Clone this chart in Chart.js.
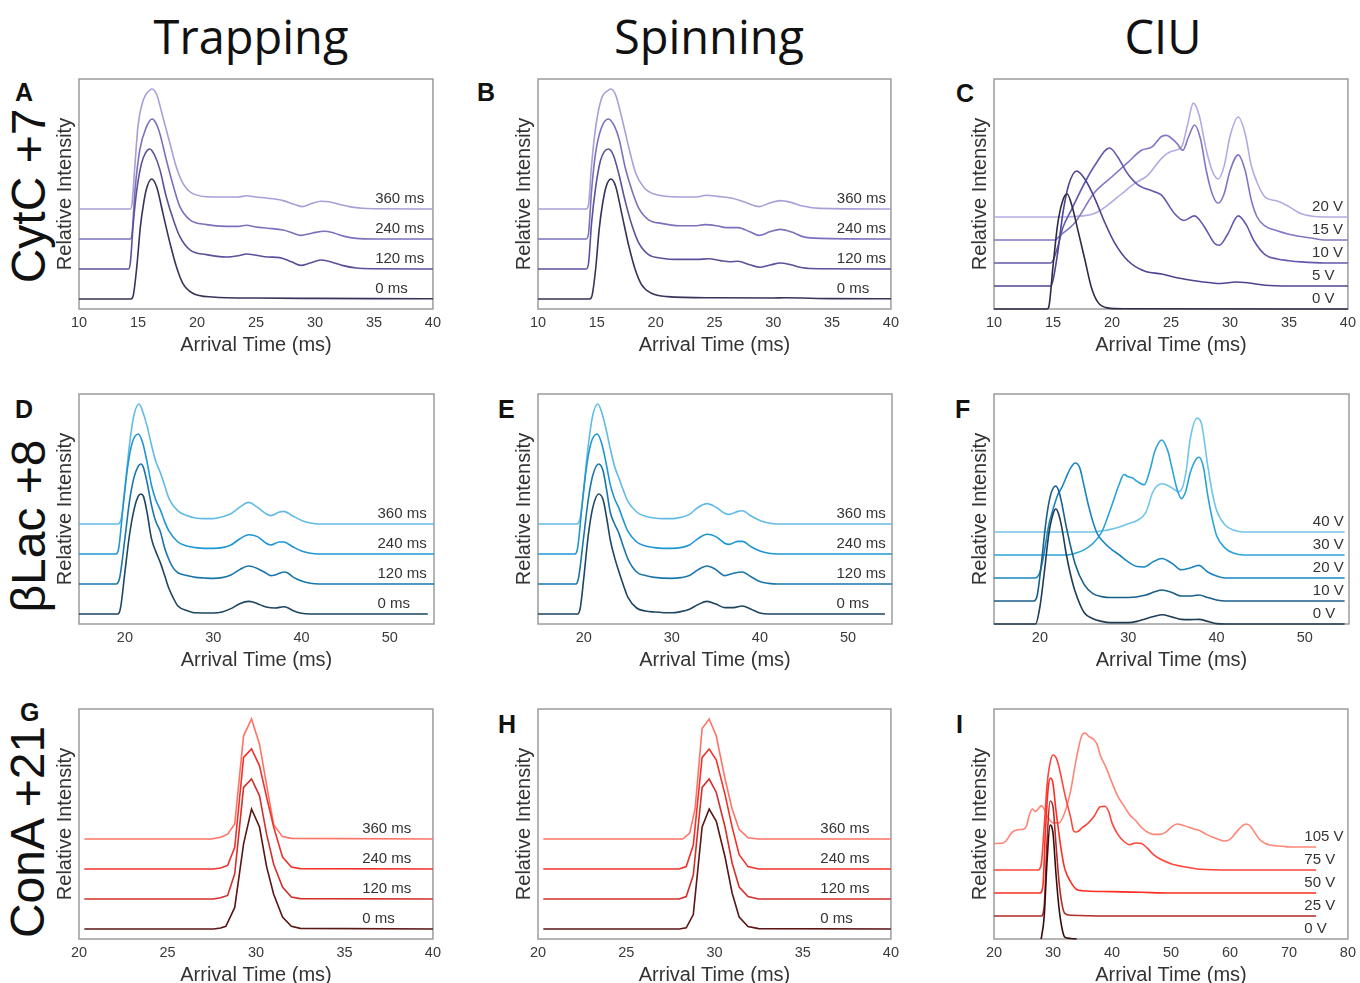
<!DOCTYPE html>
<html>
<head>
<meta charset="utf-8">
<script src="https://cdn.jsdelivr.net/npm/chart.js@4.4.0/dist/chart.umd.min.js"></script>
<style>
  body { margin: 0; background: #fff; width: 1360px; height: 983px; position: relative; overflow: hidden;
         font-family: "Liberation Sans", Arial, sans-serif; }
  .coltitle { position: absolute; top: 6px; width: 300px; text-align: center; font-family: "Open Sans", sans-serif;
              font-size: 47px; line-height: 60px; color: #111; }
  .rowtitle { position: absolute; white-space: nowrap; font-size: 48px; line-height: 48px; color: #111;
              transform: translate(-50%, -50%) rotate(-90deg); }
  .letter { position: absolute; font-weight: bold; font-size: 25px; line-height: 25px; color: #111; }
  canvas { position: absolute; }
</style>
</head>
<body>
<div class="coltitle" style="left:101px">Trapping</div>
<div class="coltitle" style="left:559px">Spinning</div>
<div class="coltitle" style="left:1013px">CIU</div>
<div class="rowtitle" style="left:29px;top:196px">CytC +7</div>
<div class="rowtitle" style="left:29px;top:526px">βLac +8</div>
<div class="rowtitle" style="left:28px;top:832px">ConA +21</div>
<div class="letter" style="left:15px;top:80px">A</div>
<div class="letter" style="left:477px;top:80px">B</div>
<div class="letter" style="left:956px;top:81px">C</div>
<div class="letter" style="left:15px;top:397px">D</div>
<div class="letter" style="left:498px;top:397px">E</div>
<div class="letter" style="left:955px;top:397px">F</div>
<div class="letter" style="left:20px;top:700px">G</div>
<div class="letter" style="left:498px;top:712px">H</div>
<div class="letter" style="left:956px;top:712px">I</div>
<script>
// ---- tick labels and trace names ----
const ticksCytC = [10, 15, 20, 25, 30, 35, 40];
const ticksBlac = [20, 30, 40, 50];
const ticksConA = [20, 25, 30, 35, 40];
const ticksConACiu = [20, 30, 40, 50, 60, 70, 80];

const timeNames = ["0 ms", "120 ms", "240 ms", "360 ms"];
const cytcVolts = ["0 V", "5 V", "10 V", "15 V", "20 V"];
const blacVolts = ["0 V", "10 V", "20 V", "30 V", "40 V"];
const conaVolts = ["0 V", "25 V", "50 V", "75 V", "105 V"];

// ---- CytC +7, trapping (arrival time ms, relative intensity) ----
const cytcTrap0 = [[10,0],[14.4,0],[14.6,0.03],[14.9,0.27],[15.2,0.6],[15.45,0.78],[15.7,0.91],[16.15,1],[16.6,0.93],[17.1,0.72],[17.7,0.47],[18.25,0.27],[18.8,0.13],[19.6,0.05],[21.3,0.017],[25,0.008],[30,0.005],[35,0.003],[40,0.002]];
const cytcTrap120 = [[10,0],[14.2,0],[14.35,0.05],[14.6,0.38],[14.9,0.66],[15.3,0.88],[15.65,0.97],[16,1],[16.4,0.95],[16.85,0.83],[17.4,0.6],[18,0.41],[18.55,0.27],[19.4,0.16],[20.8,0.12],[22.5,0.1],[23.5,0.11],[24.2,0.125],[25,0.115],[26,0.1],[27,0.095],[28,0.06],[28.8,0.03],[29.6,0.05],[30.5,0.075],[31.3,0.06],[32.3,0.03],[33.5,0.008],[35,0.002],[40,0]];
const cytcTrap240 = [[10,0],[14.35,0],[14.5,0.05],[14.75,0.41],[15.15,0.74],[15.7,0.93],[16.2,1],[16.5,0.97],[16.85,0.88],[17.4,0.66],[18,0.44],[18.55,0.27],[19.4,0.16],[20.8,0.12],[22.5,0.105],[23.5,0.105],[24.2,0.115],[25,0.1],[26,0.09],[27.3,0.075],[28,0.055],[28.8,0.03],[29.8,0.05],[30.8,0.065],[31.6,0.05],[32.5,0.022],[33.5,0.005],[35,0],[40,0]];
const cytcTrap360 = [[10,0],[14.35,0],[14.5,0.05],[14.75,0.38],[15,0.69],[15.45,0.91],[16,0.99],[16.2,1],[16.6,0.95],[17.1,0.77],[17.7,0.55],[18.25,0.35],[18.8,0.215],[19.6,0.13],[21.3,0.1],[22.5,0.1],[23.5,0.1],[24.2,0.11],[25,0.1],[26,0.09],[27.3,0.07],[28.2,0.04],[28.9,0.02],[29.7,0.045],[30.5,0.065],[31.2,0.06],[32.2,0.035],[33,0.018],[34,0.006],[35,0.002],[40,0]];

// ---- CytC +7, spinning ----
const cytcSpin0 = [[10,0],[14.4,0],[14.6,0.03],[14.9,0.25],[15.2,0.58],[15.5,0.8],[15.8,0.94],[16.2,1],[16.6,0.94],[17.1,0.72],[17.7,0.45],[18.25,0.25],[18.8,0.12],[19.6,0.05],[21,0.02],[25,0.01],[30,0.008],[31,0.01],[35,0.003],[40,0.002]];
const cytcSpin120 = [[10,0],[14.1,0],[14.3,0.05],[14.55,0.38],[14.9,0.68],[15.3,0.9],[15.65,0.98],[16,1],[16.4,0.95],[16.85,0.8],[17.4,0.57],[18,0.36],[18.55,0.22],[19.4,0.12],[20.5,0.09],[22,0.08],[23.5,0.08],[24.5,0.085],[25.5,0.07],[26.3,0.06],[27,0.065],[28,0.035],[28.9,0.015],[29.8,0.035],[30.6,0.05],[31.5,0.035],[32.5,0.01],[34,0.002],[40,0]];
const cytcSpin240 = [[10,0],[14.1,0],[14.3,0.05],[14.55,0.4],[14.9,0.72],[15.4,0.93],[16,1],[16.5,0.94],[16.9,0.83],[17.4,0.6],[18,0.4],[18.55,0.26],[19.4,0.16],[20.5,0.13],[22,0.11],[23.3,0.11],[24.2,0.12],[25.2,0.11],[26,0.095],[27,0.095],[28,0.06],[28.8,0.03],[29.7,0.06],[30.6,0.08],[31.5,0.06],[32.5,0.02],[34,0.005],[40,0]];
const cytcSpin360 = [[10,0],[14.1,0],[14.3,0.04],[14.55,0.36],[14.9,0.68],[15.4,0.92],[16,0.99],[16.2,1],[16.6,0.95],[17.1,0.77],[17.7,0.52],[18.3,0.3],[19,0.18],[20,0.12],[22,0.1],[23.5,0.1],[24.3,0.115],[25.3,0.105],[26.5,0.09],[27.5,0.06],[28.8,0.02],[29.7,0.05],[30.6,0.07],[31.5,0.055],[32.5,0.025],[34,0.005],[40,0]];

// ---- CytC +7, CIU ----
const cytcCiu0 = [[10,0],[14.5,0],[14.65,0.02],[15,0.37],[15.4,0.74],[15.85,0.95],[16.2,1],[16.6,0.9],[17.1,0.69],[17.7,0.43],[18.25,0.19],[18.8,0.06],[19.6,0.01],[21,0.002],[40,0]];
const cytcCiu5 = [[10,0],[14.8,0],[15,0.05],[15.4,0.29],[15.85,0.64],[16.3,0.87],[17,1],[17.7,0.93],[18.55,0.76],[19.4,0.55],[20.2,0.38],[21.35,0.22],[22.75,0.13],[24.2,0.105],[25.6,0.07],[27,0.046],[28.4,0.028],[29.2,0.022],[30.5,0.035],[31.5,0.028],[33,0.006],[35,0],[40,0]];
const cytcCiu10 = [[10,0],[14.8,0],[15,0.02],[15.4,0.14],[15.85,0.31],[16.55,0.46],[17.7,0.7],[18.55,0.85],[19.8,1],[20.5,0.92],[21.3,0.78],[22.2,0.68],[23.6,0.62],[24.2,0.59],[25.3,0.43],[26.1,0.37],[27,0.41],[27.8,0.32],[28.7,0.17],[29.1,0.155],[29.8,0.25],[30.7,0.41],[31.4,0.33],[32,0.2],[33,0.07],[34,0.035],[35,0.02],[36,0.01],[38,0],[40,0]];
const cytcCiu15 = [[10,0],[15.2,0],[15.5,0.03],[16.85,0.15],[18.5,0.41],[20,0.55],[21.3,0.67],[22.5,0.78],[23.4,0.81],[24.2,0.9],[24.6,0.91],[25.5,0.84],[26,0.78],[26.5,0.9],[27,1],[27.5,0.88],[28,0.6],[28.5,0.4],[29,0.32],[29.5,0.4],[30,0.6],[30.7,0.74],[31.3,0.6],[31.8,0.35],[32.3,0.2],[33,0.12],[34,0.08],[35,0.05],[36,0.03],[37,0.015],[38,0],[40,0]];
const cytcCiu20 = [[10,0],[16,0],[17.5,0.01],[18.5,0.03],[19.6,0.1],[20.8,0.2],[21.9,0.29],[23,0.36],[24.2,0.51],[25,0.57],[25.9,0.61],[26.4,0.8],[26.9,0.99],[27.4,0.88],[28,0.58],[28.5,0.4],[29,0.33],[29.5,0.44],[30,0.7],[30.7,0.87],[31.3,0.72],[31.8,0.45],[32.3,0.3],[33,0.17],[34,0.14],[35,0.09],[36,0.03],[37,0.006],[38,0],[40,0]];

// ---- βLac +8, trapping ----
const blacTrap0 = [[14.8,0],[19.2,0],[19.5,0.05],[20,0.35],[20.5,0.65],[21,0.86],[21.5,0.98],[21.8,1],[22.1,0.98],[22.5,0.85],[23,0.63],[23.5,0.52],[24,0.43],[24.5,0.32],[25,0.21],[25.5,0.13],[26,0.067],[27,0.03],[28,0.01],[30,0.008],[31,0.017],[32,0.045],[33,0.086],[34,0.105],[34.5,0.1],[35,0.086],[36,0.058],[37,0.05],[38,0.06],[38.5,0.05],[39,0.03],[40,0.006],[41,0],[54.3,0]];
const blacTrap120 = [[14.8,0],[19,0],[19.4,0.05],[20,0.38],[20.5,0.68],[21,0.88],[21.5,0.98],[21.8,1],[22.1,0.97],[22.5,0.85],[23,0.66],[23.5,0.52],[24,0.44],[24.5,0.3],[25,0.2],[25.5,0.13],[26,0.094],[27,0.07],[28,0.055],[29,0.05],[30,0.047],[31,0.053],[32,0.075],[33,0.12],[34,0.15],[35,0.13],[36,0.09],[36.5,0.07],[37,0.075],[38,0.1],[38.5,0.09],[39,0.06],[40,0.025],[41,0.006],[42,0],[55,0]];
const blacTrap240 = [[14.8,0],[19,0],[19.3,0.05],[19.8,0.4],[20.3,0.72],[20.8,0.92],[21.5,1],[22,0.93],[22.5,0.77],[23,0.575],[23.5,0.45],[24,0.37],[24.5,0.27],[25,0.19],[26,0.1],[27,0.067],[28,0.053],[29,0.047],[30,0.047],[31,0.053],[32,0.075],[33,0.125],[34,0.16],[35,0.145],[36,0.09],[36.5,0.075],[37.5,0.1],[38,0.1],[39,0.06],[40,0.025],[41,0.006],[42,0],[55,0]];
const blacTrap360 = [[14.8,0],[19.2,0],[19.6,0.05],[20,0.3],[20.5,0.65],[21,0.9],[21.6,1],[22,0.94],[22.5,0.82],[23,0.66],[23.5,0.52],[24,0.43],[24.5,0.32],[25,0.21],[26,0.11],[27,0.07],[28,0.05],[29,0.045],[30,0.045],[31,0.06],[32,0.085],[33,0.14],[34,0.18],[35,0.14],[36,0.085],[36.5,0.07],[37.5,0.1],[38,0.105],[39,0.067],[40,0.03],[41,0.008],[42,0],[55,0]];

// ---- βLac +8, spinning ----
const blacSpin0 = [[14.8,0],[19.3,0],[19.6,0.05],[20,0.3],[20.5,0.65],[21,0.88],[21.7,1],[22.2,0.95],[22.6,0.8],[23,0.62],[23.5,0.47],[24,0.35],[24.5,0.24],[25,0.14],[26,0.05],[27,0.025],[28,0.017],[30,0.01],[31,0.02],[32,0.04],[33,0.08],[34,0.105],[35,0.083],[36,0.053],[37,0.053],[38,0.067],[39,0.04],[40,0.008],[41,0],[54.2,0]];
const blacSpin120 = [[14.8,0],[19.1,0],[19.4,0.05],[20,0.4],[20.5,0.7],[21,0.9],[21.7,1],[22.2,0.94],[22.6,0.78],[23,0.6],[23.5,0.5],[24,0.42],[24.5,0.31],[25,0.21],[26,0.1],[27,0.07],[28,0.055],[30,0.047],[31,0.053],[32,0.07],[33,0.12],[34,0.15],[35,0.12],[36,0.07],[37,0.09],[38,0.1],[39,0.06],[40,0.02],[41,0.005],[42,0],[55,0]];
const blacSpin240 = [[14.8,0],[19,0],[19.3,0.05],[19.8,0.4],[20.3,0.72],[20.8,0.92],[21.5,1],[22,0.93],[22.5,0.77],[23,0.58],[23.5,0.46],[24,0.38],[24.5,0.28],[25,0.19],[26,0.1],[27,0.067],[28,0.053],[29,0.047],[30,0.047],[31,0.053],[32,0.075],[33,0.13],[34,0.165],[35,0.145],[36,0.09],[36.5,0.08],[37.5,0.105],[38,0.105],[39,0.06],[40,0.025],[41,0.006],[42,0],[55,0]];
const blacSpin360 = [[14.8,0],[19.2,0],[19.6,0.05],[20,0.3],[20.5,0.65],[21,0.9],[21.6,1],[22,0.94],[22.5,0.8],[23,0.63],[23.5,0.48],[24,0.38],[24.5,0.28],[25,0.19],[26,0.1],[27,0.065],[28,0.05],[29,0.045],[30,0.045],[31,0.055],[32,0.08],[33,0.14],[34,0.17],[35,0.14],[36,0.09],[36.5,0.08],[37.5,0.105],[38,0.11],[39,0.067],[40,0.03],[41,0.008],[42,0],[55,0]];

// ---- βLac +8, CIU ----
const blacCiu0 = [[14.8,0],[19.5,0],[20,0.15],[20.5,0.45],[21,0.78],[21.5,0.96],[21.8,1],[22.1,0.96],[22.5,0.83],[23,0.6],[23.5,0.42],[24,0.28],[25,0.1],[26,0.046],[27,0.023],[28,0.012],[30,0.012],[31,0.023],[32,0.046],[33,0.067],[33.8,0.08],[35,0.06],[36,0.04],[37,0.038],[38,0.04],[39,0.023],[40,0.003],[41,0],[54.5,0]];
const blacCiu10 = [[14.8,0],[19.3,0],[19.7,0.05],[20.2,0.35],[20.7,0.7],[21.2,0.92],[21.8,1],[22.2,0.94],[22.5,0.84],[23,0.64],[24,0.32],[25,0.145],[26,0.064],[27,0.038],[28,0.03],[30,0.03],[32,0.052],[33,0.08],[33.8,0.096],[35,0.072],[36,0.043],[37,0.043],[38,0.052],[39,0.03],[40,0.009],[41,0],[54.5,0]];
const blacCiu20 = [[14.8,0],[19.4,0],[20,0.05],[20.5,0.23],[21,0.46],[21.5,0.6],[22,0.72],[22.5,0.79],[23,0.88],[23.5,0.96],[24,1],[24.5,0.96],[25,0.8],[25.5,0.63],[26,0.49],[26.5,0.385],[27,0.33],[28,0.255],[29,0.2],[30,0.14],[31,0.1],[31.8,0.096],[32.8,0.14],[33.8,0.17],[35,0.125],[36,0.072],[37,0.087],[38,0.11],[39,0.052],[40,0.017],[41,0],[54.5,0]];
const blacCiu30 = [[14.8,0],[23,0],[24,0.015],[25,0.045],[26,0.1],[27,0.2],[28,0.4],[29,0.62],[29.5,0.7],[30,0.68],[30.5,0.67],[31,0.64],[31.8,0.61],[32.5,0.75],[33,0.9],[33.8,1],[34.5,0.9],[35,0.74],[35.5,0.58],[36,0.49],[36.5,0.55],[37,0.71],[37.5,0.81],[38,0.85],[38.5,0.77],[39,0.52],[39.5,0.32],[40,0.17],[41,0.058],[42,0.015],[43,0],[54.5,0]];
const blacCiu40 = [[14.8,0],[26,0],[27,0.01],[28,0.023],[29,0.043],[30,0.072],[31,0.1],[32,0.17],[32.8,0.35],[33.8,0.42],[34.6,0.4],[35.2,0.37],[35.7,0.35],[36.2,0.4],[36.6,0.55],[37,0.8],[37.8,0.99],[38.3,0.94],[39,0.58],[39.5,0.35],[40,0.19],[41,0.058],[42,0.015],[43,0],[54.5,0]];

// ---- ConA +21, trapping ----
const conaTrap0 = [[20.3,0],[27.6,0],[28,0.008],[28.3,0.022],[28.8,0.18],[29.3,0.71],[29.75,1],[30.2,0.85],[30.6,0.52],[31,0.29],[31.5,0.1],[32,0.022],[32.5,0.005],[40,0]];
const conaTrap120 = [[20.3,0],[27.6,0],[28,0.01],[28.4,0.03],[28.8,0.21],[29.3,0.93],[29.75,1],[30.2,0.86],[30.6,0.54],[31,0.29],[31.5,0.1],[32,0.017],[32.5,0.003],[40,0]];
const conaTrap240 = [[20.3,0],[27.6,0],[28,0.008],[28.4,0.03],[28.8,0.18],[29.3,0.93],[29.75,1],[30.2,0.86],[30.6,0.6],[31,0.35],[31.5,0.1],[32,0.017],[32.5,0.003],[40,0]];
const conaTrap360 = [[20.3,0],[27.5,0],[28,0.014],[28.4,0.04],[28.8,0.125],[29.3,0.86],[29.75,1],[30.2,0.79],[30.6,0.45],[31,0.12],[31.5,0.02],[32,0.005],[40,0]];

// ---- ConA +21, spinning ----
const conaSpin0 = [[20.3,0],[28,0],[28.4,0.01],[28.8,0.12],[29.3,0.85],[29.7,1],[30.1,0.9],[30.6,0.6],[31,0.3],[31.4,0.1],[31.9,0.02],[32.5,0.003],[40,0]];
const conaSpin120 = [[20.3,0],[28,0],[28.4,0.02],[28.8,0.2],[29.3,0.93],[29.7,1],[30.1,0.89],[30.6,0.6],[31,0.3],[31.4,0.1],[31.9,0.02],[32.5,0],[40,0]];
const conaSpin240 = [[20.3,0],[28,0],[28.4,0.02],[28.8,0.2],[29.3,0.93],[29.7,1],[30.1,0.91],[30.6,0.62],[31,0.35],[31.4,0.12],[31.9,0.02],[32.5,0],[40,0]];
const conaSpin360 = [[20.3,0],[28.2,0],[28.6,0.05],[28.9,0.25],[29.3,0.92],[29.7,1],[30.1,0.86],[30.6,0.5],[31,0.25],[31.4,0.08],[31.9,0.01],[32.5,0],[40,0]];

// ---- ConA +21, CIU ----
const conaCiu0 = [[28,0],[28.5,0.19],[29,0.68],[29.5,0.99],[30,0.92],[30.5,0.57],[31,0.28],[31.5,0.1],[32,0.017],[33,0.005],[34,0]];
const conaCiu25 = [[20,0],[28,0],[28.5,0.08],[29,0.66],[29.5,1],[30,0.95],[30.5,0.63],[31,0.31],[31.5,0.11],[32,0.023],[33,0.006],[40,0],[74.6,0]];
const conaCiu50 = [[20,0],[27.8,0],[28.3,0.067],[28.7,0.52],[29.2,0.92],[29.6,1],[30,0.95],[30.5,0.72],[31,0.52],[31.5,0.34],[32,0.21],[33,0.096],[34,0.03],[35,0.02],[40,0.012],[45,0.006],[50,0],[74.6,0]];
const conaCiu75 = [[20,0],[27.5,0],[28,0.05],[28.5,0.37],[29,0.74],[29.5,0.93],[30,1],[30.5,0.98],[31,0.9],[32,0.66],[33,0.455],[33.5,0.34],[34,0.33],[35,0.37],[36,0.41],[37,0.47],[38,0.55],[38.8,0.555],[39.5,0.5],[40,0.41],[41,0.31],[42,0.25],[43,0.22],[44,0.235],[45,0.23],[46,0.19],[47,0.136],[48,0.1],[50,0.055],[52,0.03],[55,0.006],[60,0],[74.6,0]];
const conaCiu105 = [[20,0.03],[21,0.03],[22,0.05],[23,0.125],[24,0.15],[25,0.155],[25.5,0.18],[26,0.28],[26.5,0.33],[27,0.31],[27.5,0.33],[28,0.36],[28.5,0.33],[29,0.27],[30,0.21],[31,0.21],[32,0.3],[33,0.49],[34,0.78],[35,0.98],[35.5,0.99],[36,0.965],[37,0.93],[37.5,0.89],[38,0.8],[39,0.69],[40,0.56],[41,0.44],[42,0.36],[43,0.28],[44,0.23],[45,0.17],[46,0.13],[47,0.11],[48,0.11],[49,0.125],[50,0.17],[51,0.2],[52,0.19],[54,0.155],[55,0.14],[56,0.11],[58,0.067],[59,0.052],[60,0.067],[61,0.125],[62,0.18],[62.8,0.2],[63.5,0.18],[64,0.14],[65,0.067],[66,0.03],[67,0.015],[69,0.006],[70,0],[74.6,0]];

// ---- colours per row ----
const purpleTime = ["#37335a", "#5a5199", "#7a71bd", "#a69fd8"];
const purpleVolt = ["#2e2b48", "#4c4590", "#6259ad", "#8077c6", "#b2abe2"];
const blueTime = ["#1e4661", "#1a76aa", "#1e96d4", "#62bbe4"];
const blueVolt = ["#1f3d55", "#1a5f8c", "#1a85c1", "#2aa2da", "#72c4e8"];
const redTime = ["#5a1515", "#d2302b", "#f0322a", "#ff7366"];
const redVolt = ["#3a0d0d", "#b32a28", "#ff2d22", "#ff4539", "#ff8577"];

// stacking: time panels are 0.25 apart, CIU panels 0.2 apart
const TIME_Y = { min: -1 / 12, max: 11 / 6, step: 0.25 };
const CIU_Y = { min: 0, max: 2, step: 0.2 };

const panels = [
  { left: 79, top: 79, w: 355, x: [10, 40], ticks: ticksCytC, y: TIME_Y, names: timeNames, colors: purpleTime, labelAt: 35.1, smooth: true,
    series: [cytcTrap0, cytcTrap120, cytcTrap240, cytcTrap360] },
  { left: 538, top: 79, w: 354, x: [10, 40], ticks: ticksCytC, y: TIME_Y, names: timeNames, colors: purpleTime, labelAt: 35.4, smooth: true,
    series: [cytcSpin0, cytcSpin120, cytcSpin240, cytcSpin360] },
  { left: 994, top: 79, w: 355, x: [10, 40], ticks: ticksCytC, y: CIU_Y, names: cytcVolts, colors: purpleVolt, labelAt: 36.96, smooth: true,
    series: [cytcCiu0, cytcCiu5, cytcCiu10, cytcCiu15, cytcCiu20] },
  { left: 79, top: 394, w: 355, x: [14.8, 55], ticks: ticksBlac, y: TIME_Y, names: timeNames, colors: blueTime, labelAt: 48.6, smooth: true,
    series: [blacTrap0, blacTrap120, blacTrap240, blacTrap360] },
  { left: 538, top: 394, w: 354, x: [14.8, 55], ticks: ticksBlac, y: TIME_Y, names: timeNames, colors: blueTime, labelAt: 48.7, smooth: true,
    series: [blacSpin0, blacSpin120, blacSpin240, blacSpin360] },
  { left: 994, top: 394, w: 355, x: [14.8, 55], ticks: ticksBlac, y: CIU_Y, names: blacVolts, colors: blueVolt, labelAt: 50.9, smooth: true,
    series: [blacCiu0, blacCiu10, blacCiu20, blacCiu30, blacCiu40] },
  { left: 79, top: 709, w: 355, x: [20, 40], ticks: ticksConA, y: TIME_Y, names: timeNames, colors: redTime, labelAt: 36.0, smooth: false,
    series: [conaTrap0, conaTrap120, conaTrap240, conaTrap360] },
  { left: 538, top: 709, w: 354, x: [20, 40], ticks: ticksConA, y: TIME_Y, names: timeNames, colors: redTime, labelAt: 36.0, smooth: false,
    series: [conaSpin0, conaSpin120, conaSpin240, conaSpin360] },
  { left: 994, top: 709, w: 355, x: [20, 80], ticks: ticksConACiu, y: CIU_Y, names: conaVolts, colors: redVolt, labelAt: 72.6, smooth: true,
    series: [conaCiu0, conaCiu25, conaCiu50, conaCiu75, conaCiu105] },
];

const AXIS_W = 30, AXIS_H = 62, PAD_TOP = 5, PAD_RIGHT = 12, PLOT_H = 230;
const FONT = '"Liberation Sans", Arial, sans-serif';

function drawPanel(p) {
  const canvas = document.createElement("canvas");
  canvas.width = AXIS_W + p.w + PAD_RIGHT;
  canvas.height = PAD_TOP + PLOT_H + AXIS_H;
  canvas.style.left = (p.left - AXIS_W) + "px";
  canvas.style.top = (p.top - PAD_TOP) + "px";
  document.body.appendChild(canvas);

  const datasets = p.series.map((pts, i) => ({
    data: pts.map(([x, v]) => ({ x, y: i * p.y.step + v })),
    borderColor: p.colors[i],
    borderWidth: 1.6,
    pointRadius: 0,
    fill: false,
    clip: 1,
    tension: p.smooth ? 0.4 : 0,
    cubicInterpolationMode: p.smooth ? "monotone" : "default",
  }));

  const frame = {
    id: "frame",
    beforeDatasetsDraw(chart) {
      const { ctx, chartArea: a } = chart;
      ctx.save();
      ctx.strokeStyle = "#9c9c9c";
      ctx.lineWidth = 1.5;
      ctx.strokeRect(a.left, a.top, a.right - a.left, a.bottom - a.top);
      ctx.restore();
    },
  };

  const traceLabels = {
    id: "traceLabels",
    afterDatasetsDraw(chart) {
      const { ctx, scales: { x, y } } = chart;
      ctx.save();
      ctx.font = "15px " + FONT;
      ctx.fillStyle = "#333";
      ctx.textBaseline = "middle";
      ctx.textAlign = "left";
      p.names.forEach((n, i) => {
        ctx.fillText(n, x.getPixelForValue(p.labelAt), y.getPixelForValue(i * p.y.step) - 10);
      });
      ctx.restore();
    },
  };

  new Chart(canvas, {
    type: "line",
    data: { datasets },
    plugins: [frame, traceLabels],
    options: {
      responsive: false,
      animation: false,
      layout: { padding: { top: PAD_TOP, right: PAD_RIGHT, left: 0, bottom: 0 } },
      plugins: { legend: { display: false }, tooltip: { enabled: false } },
      scales: {
        x: {
          type: "linear",
          min: p.x[0],
          max: p.x[1],
          afterBuildTicks: (s) => { s.ticks = p.ticks.map((v) => ({ value: v })); },
          afterFit: (s) => { s.height = AXIS_H; },
          grid: { display: false, drawTicks: false },
          border: { display: false },
          ticks: { color: "#3a3a3a", font: { family: FONT, size: 14.5 }, padding: 5, maxRotation: 0, autoSkip: false },
          title: { display: true, text: "Arrival Time (ms)", color: "#333", font: { family: FONT, size: 20 }, padding: { top: 0, bottom: 14 } },
        },
        y: {
          min: p.y.min,
          max: p.y.max,
          afterFit: (s) => { s.width = AXIS_W; },
          grid: { display: false, drawTicks: false },
          border: { display: false },
          ticks: { display: false },
          title: { display: true, text: "Relative Intensity", color: "#333", font: { family: FONT, size: 20 }, padding: { top: 4, bottom: 0 } },
        },
      },
    },
  });
}

panels.forEach(drawPanel);
</script>
</body>
</html>
